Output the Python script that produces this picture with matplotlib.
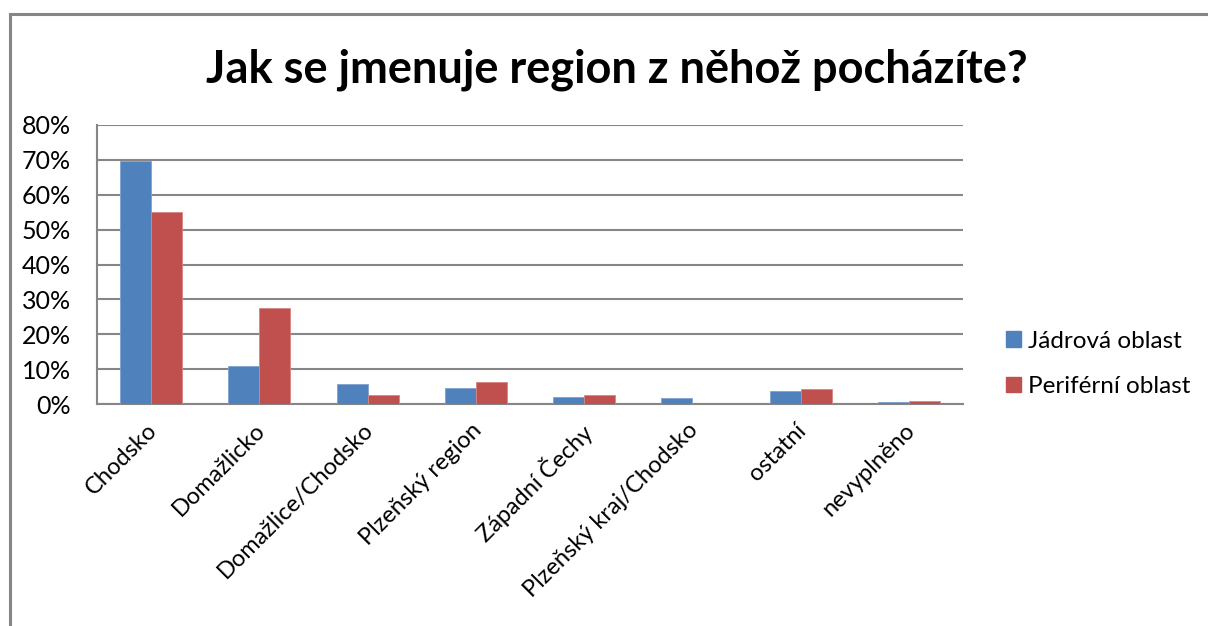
import matplotlib
matplotlib.use("Agg")
import matplotlib.pyplot as plt
import matplotlib.transforms as mtransforms
import numpy as np
from matplotlib.patches import Rectangle
from matplotlib.lines import Line2D

categories = ["Chodsko", "Domažlicko", "Domažlice/Chodsko", "Plzeňský region",
              "Západní Čechy", "Plzeňský kraj/Chodsko", "ostatní", "nevyplněno"]
jadrova = [69.7, 10.8, 5.6, 4.7, 1.9, 1.7, 3.6, 0.6]
periferni = [55.0, 27.5, 2.6, 6.3, 2.7, 0.0, 4.4, 0.8]
series_names = ["Jádrová oblast", "Periférní oblast"]
yticks = [0, 10, 20, 30, 40, 50, 60, 70, 80]
title = "Jak se jmenuje region z něhož pocházíte?"

plt.rcParams['font.family'] = ['Lato', 'DejaVu Sans']

W, H = 1208, 626
fig = plt.figure(figsize=(W / 100, H / 100), dpi=100)

# outer chart frame (top and left visible, extends beyond image)
fx, fy = 9.5 / W, 1 - 13.5 / H
fig.lines.append(Line2D([fx, fx], [-0.05, fy], transform=fig.transFigure,
                        color='#868686', linewidth=2.2, solid_capstyle='projecting'))
fig.lines.append(Line2D([fx, 1.05], [fy, fy], transform=fig.transFigure,
                        color='#868686', linewidth=2.2, solid_capstyle='projecting'))

ax = fig.add_axes([97 / W, 1 - 404 / H, 866 / W, 279 / H])
x = np.arange(len(categories))
bw = 1 / 3.5
blue = '#4F81BD'
red = '#C0504D'
ax.bar(x - bw / 2, jadrova, bw, color=blue, edgecolor='#7FA2CF', linewidth=0.6, zorder=3)
ax.bar(x + bw / 2, periferni, bw, color=red, edgecolor='#D98583', linewidth=0.6, zorder=3)

ax.set_xlim(-0.5, len(categories) - 0.5)
ax.set_ylim(0, 80)
ax.set_yticks(yticks)
ax.set_yticklabels([f"{v}%" for v in yticks], fontsize=18)
ax.yaxis.grid(True, color='#868686', linewidth=1.5, zorder=0)
ax.set_axisbelow(True)
ax.tick_params(axis='both', length=0)
ax.tick_params(axis='y', pad=19)
for s in ['top', 'right']:
    ax.spines[s].set_visible(False)
for s in ['left', 'bottom']:
    ax.spines[s].set_color('#868686')
    ax.spines[s].set_linewidth(1.5)

ax.set_xticks(x)
ax.set_xticklabels(categories, rotation=45, ha='right', va='top',
                   rotation_mode='anchor', fontsize=17)
ax.tick_params(axis='x', pad=11)
shift = mtransforms.ScaledTranslation(-5 / 100, 0, fig.dpi_scale_trans)
for lab in ax.get_xticklabels():
    lab.set_transform(lab.get_transform() + shift)

fig.text(617 / W, 1 - 70 / H, title, ha='center', va='center',
         fontsize=32.5, fontweight='bold')

handles = [Rectangle((0, 0), 1, 1, color=blue), Rectangle((0, 0), 1, 1, color=red)]
fig.legend(handles, series_names, loc='center left',
           bbox_to_anchor=(984 / W, 1 - 364 / H), frameon=False,
           fontsize=17.5, handlelength=0.62, handleheight=0.62,
           handletextpad=0.3, labelspacing=1.0)

fig.savefig("out.png", dpi=100)
